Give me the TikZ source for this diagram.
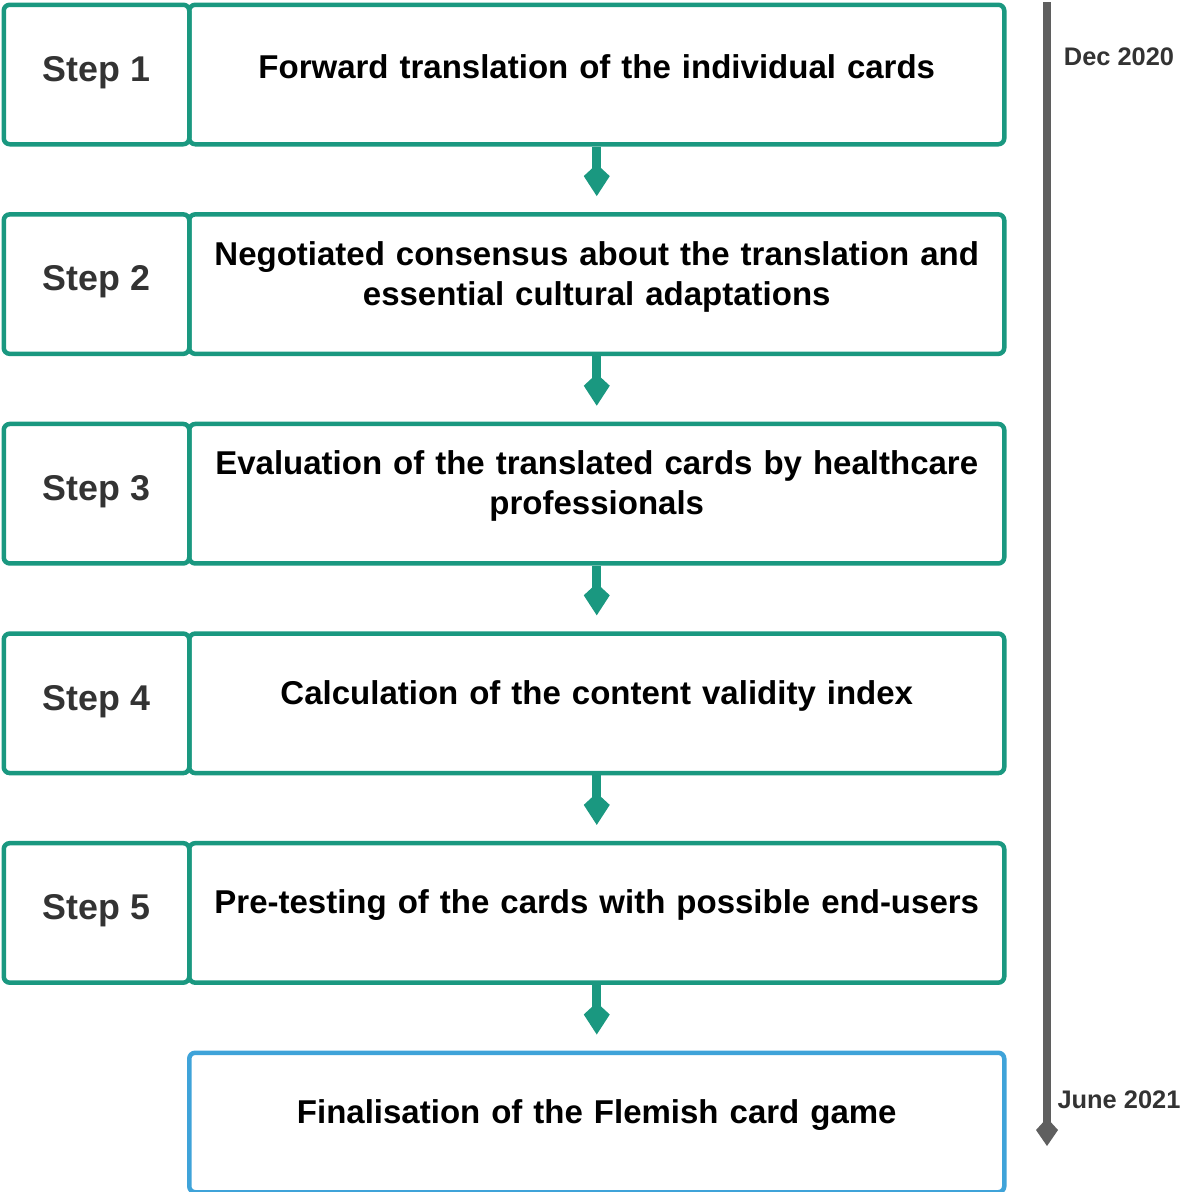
\documentclass[tikz,border=0pt]{standalone}
\usepackage{fontspec}
\setmainfont{Liberation Sans}
\usetikzlibrary{arrows.meta}

\definecolor{stepgreen}{HTML}{1A9880}
\definecolor{finalblue}{HTML}{3FA3D9}
\definecolor{timegray}{HTML}{5F5F5F}
\definecolor{labelgray}{HTML}{333333}

\tikzset{
	stepbox/.style={draw=stepgreen, line width=4.5pt, rounded corners=6pt, anchor=north west,
		minimum width=185.5pt, minimum height=139.5pt, inner sep=0pt},
	steptext/.style={text=labelgray, font=\fontsize{35.8}{40}\selectfont\bfseries},
	taskbox/.style={draw=stepgreen, line width=4.5pt, rounded corners=6pt, anchor=north west,
		minimum width=815pt, minimum height=139.5pt, inner sep=0pt},
	tasktext/.style={text width=800pt, align=center, inner sep=0pt, font=\fontsize{33}{40}\selectfont\bfseries},
	flowarrow/.style={draw=stepgreen, line width=9pt, -{Kite[length=32pt, width=26pt, inset=12pt]}, shorten >=16pt},
	datelabel/.style={text=labelgray, font=\fontsize{25.4}{30}\selectfont\bfseries}
}

\begin{document}
\begin{tikzpicture}[x=1pt, y=-1pt]
	\useasboundingbox (0,0) rectangle (1181,1192);
	
	%steps
	\foreach \i/\txt in {1/{Forward translation of the individual cards},
		2/{Negotiated consensus about the translation and\\essential cultural adaptations},
		3/{Evaluation of the translated cards by healthcare\\professionals},
		4/{Calculation of the content validity index},
		5/{Pre-testing of the cards with possible end-users}}{
		\node[stepbox] (s\i) at (1.5, 2.5+209.6*\i-209.6) {};
		\node[steptext] (sl\i) at ([yshift=2pt]s\i.center) {Step \i};
		\node[taskbox] (t\i) at (187, 2.5+209.6*\i-209.6) {};
		\node[tasktext] (tl\i) at ([yshift=7.5pt]t\i.center) {\txt};
	}
	
	%final box
	\node[taskbox, draw=finalblue] (t6) at (187, 1050.5) {};
	\node[tasktext] (tl6) at ([yshift=7.5pt]t6.center) {Finalisation of the Flemish card game};
	
	\foreach \i [evaluate=\i as \j using int(\i+1)] in {1, 2, ..., 5}{
		\draw[flowarrow] (t\i.south) -- (t\j.north);
	}
	
	%time axis
	\coordinate (tstart) at (1047, 2);
	\coordinate (tend) at (1047, 1146);
	\draw[draw=timegray, line width=8pt, -{Kite[length=28pt, width=22pt, inset=12pt]}] (tstart) -- (tend);
	\node[datelabel] (dec) at (1119, 57) {Dec 2020};
	\node[datelabel] (june) at (1119, 1100) {June 2021};
\end{tikzpicture}
\end{document}
